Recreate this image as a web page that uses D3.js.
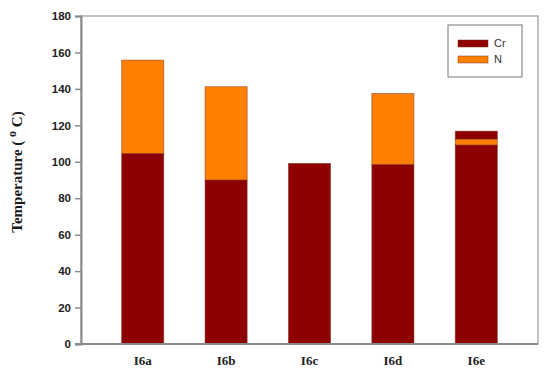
<!DOCTYPE html>
<html>
<head>
<meta charset="utf-8">
<script src="https://cdn.jsdelivr.net/npm/d3@7"></script>
<style>
  body { margin: 0; background: #fff; }
  svg { display: block; }
</style>
</head>
<body>
<div id="chart"></div>
<script>
const width = 550;
const height = 373;

// data
const samples = ["I6a", "I6b", "I6c", "I6d", "I6e"];
const crValues = [104.6, 90, 99.1, 98.6, 109.2];
const nValues = [51.2, 51.2, 0, 38.9, 3.3];
// thin dark cap on top of I6e
const crTopValues = [0, 0, 0, 0, 4.3];
const yTicks = [0, 20, 40, 60, 80, 100, 120, 140, 160, 180];
const legendItems = ["Cr", "N"];

const colors = { Cr: "#8f0000", N: "#ff8000", CrTop: "#8f0000" };

const margin = { left: 81, right: 12, top: 16, bottom: 29 };
const plotRight = width - margin.right;
const plotBottom = height - margin.bottom;

const rows = samples.map((s, i) => ({
    sample: s, Cr: crValues[i], N: nValues[i], CrTop: crTopValues[i]
}));

const stack = d3.stack().keys(["Cr", "N", "CrTop"]);
const series = stack(rows);

const x = d3.scalePoint()
    .domain(samples)
    .range([margin.left, plotRight])
    .padding(0.74);
const barWidth = x.step() * 0.505;

const y = d3.scaleLinear()
    .domain([0, 180])
    .range([plotBottom, margin.top]);

const svg = d3.select("#chart")
    .append("svg")
        .attr("width", width)
        .attr("height", height);

// frame (top and right)
svg.append("rect")
    .attr("x", margin.left)
    .attr("y", margin.top)
    .attr("width", plotRight - margin.left)
    .attr("height", plotBottom - margin.top)
    .attr("fill", "none")
    .attr("stroke", "#9a9a9a")
    .attr("stroke-width", 1.2);

// bars
svg.append("g")
    .selectAll("g")
    .data(series)
    .join("g")
        .attr("fill", d => colors[d.key])
    .selectAll("rect")
    .data(d => d.filter(p => p[1] - p[0] > 0))
    .join("rect")
        .attr("x", d => x(d.data.sample) - barWidth / 2)
        .attr("y", d => y(d[1]))
        .attr("width", barWidth)
        .attr("height", d => y(d[0]) - y(d[1]))
        .attr("stroke", "#7a3020")
        .attr("stroke-opacity", 0.6)
        .attr("stroke-width", 0.8);

// y axis
const yAxis = svg.append("g")
    .attr("transform", `translate(${margin.left},0)`)
    .call(d3.axisLeft(y).tickValues(yTicks).tickSize(6).tickPadding(4));
yAxis.select(".domain").attr("stroke", "#8a8a8a").attr("stroke-width", 2);
yAxis.selectAll(".tick line").attr("stroke", "#8a8a8a").attr("stroke-width", 1.5);
yAxis.selectAll(".tick text")
    .attr("font-family", "Liberation Sans, Arial, sans-serif")
    .attr("font-weight", "bold")
    .attr("font-size", 11.5)
    .attr("fill", "#222");

// x axis line
svg.append("line")
    .attr("x1", margin.left - 6)
    .attr("x2", plotRight)
    .attr("y1", plotBottom)
    .attr("y2", plotBottom)
    .attr("stroke", "#8a8a8a")
    .attr("stroke-width", 2);

// x labels
svg.append("g")
    .selectAll("text")
    .data(samples)
    .join("text")
        .attr("x", d => x(d))
        .attr("y", plotBottom + 21)
        .attr("text-anchor", "middle")
        .attr("font-family", "Liberation Serif, Times New Roman, serif")
        .attr("font-weight", "bold")
        .attr("font-size", 13)
        .attr("fill", "#222")
        .text(d => d);

// y label
const yLabel = svg.append("text")
    .attr("transform", `translate(22,${(margin.top + plotBottom) / 2 - 8}) rotate(-90)`)
    .attr("text-anchor", "middle")
    .attr("font-family", "Liberation Serif, Times New Roman, serif")
    .attr("font-weight", "bold")
    .attr("font-size", 15)
    .attr("fill", "#1a1a1a");
yLabel.append("tspan").text("Temperature ( ");
yLabel.append("tspan").attr("dy", -6).attr("font-size", 12).text("o");
yLabel.append("tspan").attr("dy", 6).text(" C)");

// legend
const legend = svg.append("g").attr("transform", "translate(448,25)");
legend.append("rect")
    .attr("width", 74)
    .attr("height", 52)
    .attr("fill", "#fff")
    .attr("stroke", "#777")
    .attr("stroke-width", 1);
const item = legend.selectAll("g")
    .data(legendItems)
    .join("g")
        .attr("transform", (d, i) => `translate(10,${15 + i * 16})`);
item.append("rect")
    .attr("width", 30)
    .attr("height", 7)
    .attr("fill", d => colors[d])
    .attr("stroke", "#7a3020")
    .attr("stroke-opacity", 0.6)
    .attr("stroke-width", 0.8);
item.append("text")
    .attr("x", 36)
    .attr("y", 7)
    .attr("font-family", "Liberation Sans, Arial, sans-serif")
    .attr("font-size", 11)
    .attr("fill", "#333")
    .text(d => d);
</script>
</body>
</html>
